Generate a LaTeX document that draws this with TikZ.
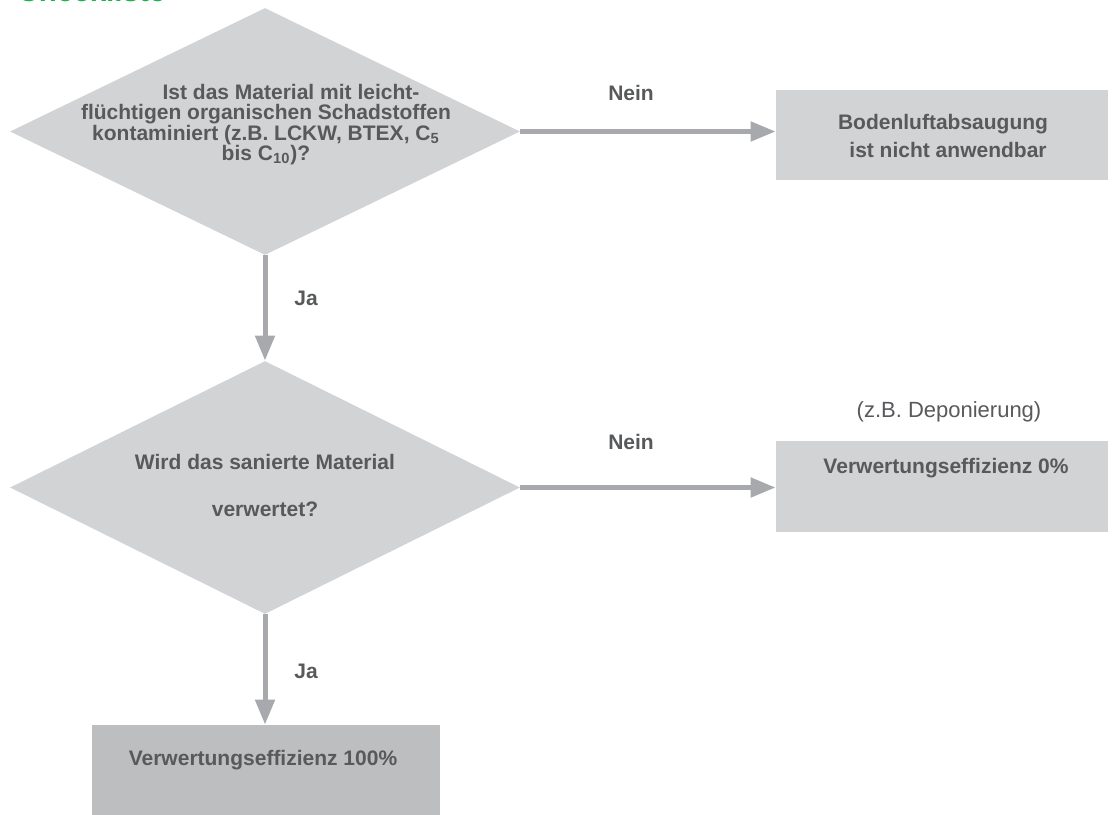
\documentclass[tikz,border=0pt]{standalone}
\usepackage{fontspec}
\setmainfont{Liberation Sans}
\usetikzlibrary{shapes.geometric,arrows.meta}

\definecolor{txtgray}{HTML}{58595B}
\definecolor{shapegray}{HTML}{D1D3D4}
\definecolor{darkgray}{HTML}{BCBEC0}
\definecolor{arrowgray}{HTML}{A7A9AC}
\definecolor{titlegreen}{HTML}{1BB24B}

\tikzset{
    decision/.style={diamond, fill=shapegray, inner sep=0pt, minimum width=255pt},
    resultbox/.style={rectangle, fill=shapegray, inner sep=0pt, minimum width=166pt},
    flowtext/.style={text=txtgray, font=\bfseries\fontsize{10.5}{10.2}\selectfont, align=center, inner sep=0pt},
    flowarrow/.style={draw=arrowgray, line width=2.5pt, -{Triangle[length=12.5pt,width=9.5pt]}}
}

\begin{document}
\begin{tikzpicture}[x=0.5pt,y=-0.5pt]
        \useasboundingbox (0,0) rectangle (1113,814);

        %title
        \node[anchor=base west, inner sep=0pt, text=titlegreen, font=\bfseries\fontsize{14.8}{16}\selectfont] (title) at (17,1.5) {Checkliste};

        %shapes
        \node[decision, minimum height=123.5pt] (q1) at (265,131.5) {};
        \node[decision, minimum height=126.5pt] (q2) at (265,487.5) {};
        \node[resultbox, minimum height=45pt] (noslv) at (942,135) {};
        \node[resultbox, minimum height=45.5pt] (eff0) at (942,486.5) {};
        \node[resultbox, fill=darkgray, minimum width=174pt, minimum height=46.5pt] (eff100) at (266,771.5) {};

        %texts
        \node[flowtext] (q1txt) at (266,124.5) {\hspace*{25pt}Ist das Material mit leicht-\\flüchtigen organischen Schadstoffen\\kontaminiert (z.B. LCKW, BTEX, C\textsubscript{5}\\bis C\textsubscript{10})?};
        \node[flowtext, font=\bfseries\fontsize{10.5}{23.5}\selectfont] (q2txt) at (265,485.5) {Wird das sanierte Material\\verwertet?};
        \node[flowtext, font=\bfseries\fontsize{10.5}{14}\selectfont] (noslvtxt) at (943,136) {Bodenluftabsaugung\\\hspace*{5pt}ist nicht anwendbar};
        \node[flowtext] (eff0txt) at (946,468) {Verwertungseffizienz 0\%};
        \node[flowtext] (eff100txt) at (263,760) {Verwertungseffizienz 100\%};
        \node[flowtext, font=\fontsize{11}{13}\selectfont] (note) at (949,412) {(z.B. Deponierung)};

        %arrows
        \draw[flowarrow] (q1.east) -- (q1.east -| noslv.west);
        \draw[flowarrow] (q1.south) -- (q2.north);
        \draw[flowarrow] (q2.east) -- (q2.east -| eff0.west);
        \draw[flowarrow] (q2.south) -- (q2.south |- eff100.north);

        %labels
        \node[flowtext] (nein1) at (631,93) {Nein};
        \node[flowtext] (ja1) at (306,298) {Ja};
        \node[flowtext] (nein2) at (631,442) {Nein};
        \node[flowtext] (ja2) at (306,671) {Ja};
    \end{tikzpicture}
\end{document}
